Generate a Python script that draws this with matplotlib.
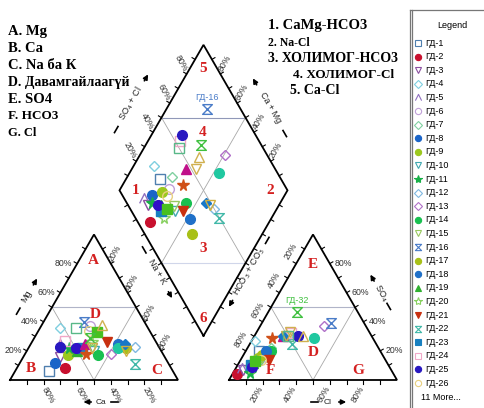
import numpy as np
import matplotlib
matplotlib.use("Agg")
import matplotlib.pyplot as plt
from matplotlib.path import Path

# samples (percent of meq)
names = ["ГД-%d" % i for i in range(1, 38)]
ca   = [74, 63, 62, 52, 58, 34, 51, 67, 57, 40, 54, 14, 31, 39, 40, 36, 20, 23, 50, 38, 29, 20, 46, 54, 59, 36,
        50, 43, 46, 32, 26, 38, 40, 25, 19, 21, 43]
mg   = [6, 8, 16, 36, 25, 37, 22, 12, 17, 20, 22, 23, 18, 17, 22, 40, 22, 25, 20, 26, 26, 11, 22, 27, 23, 34,
        22, 25, 18, 33, 38, 29, 22, 22, 25, 20, 36]
nak  = [20, 29, 22, 12, 17, 29, 27, 21, 26, 40, 24, 63, 51, 44, 38, 24, 58, 52, 30, 36, 45, 69, 32, 19, 18, 30,
        28, 32, 36, 35, 36, 33, 38, 53, 56, 59, 21]
hco3 = [72, 93, 88, 71, 88, 70, 64, 82, 75, 74, 85, 50, 25, 65, 73, 20, 72, 68, 80, 83, 69, 50, 82, 47, 44, 74,
        82, 53, 60, 78, 41, 36, 47, 35, 53, 51, 50]
so4  = [20, 4, 7, 27, 8, 16, 22, 10, 15, 14, 5, 30, 37, 20, 15, 39, 17, 20, 12, 8, 14, 25, 10, 32, 30, 14,
        9, 30, 29, 13, 30, 47, 33, 29, 30, 30, 30]
cl   = [8, 3, 5, 2, 4, 14, 14, 8, 10, 12, 10, 20, 38, 15, 12, 41, 11, 12, 8, 9, 17, 25, 8, 21, 26, 12,
        9, 17, 11, 9, 29, 17, 20, 36, 17, 19, 20]
labelled = ["ГД-16", "ГД-32"]

hourglass = Path([(-1, 1), (1, 1), (-1, -1), (1, -1), (-1, 1)])
caret = Path([(-1, -1), (0, 1), (1, -1)], [Path.MOVETO, Path.LINETO, Path.LINETO])

styles = [
    ("s", "#4f7fae", False), ("o", "#c8102e", True), ("v", "#8a4fa0", False), ("D", "#7fcfe0", False),
    (caret, "#9070c0", False), ("o", "#c0a0d8", False), ("D", "#80d0a0", False), ("o", "#1a64c8", True),
    ("o", "#9cc81e", True), ("v", "#40a8b0", False), ("*", "#18b048", True), ("D", "#80b8e0", False),
    ("D", "#b070c8", False), ("o", "#18c050", True), ("v", "#98c860", False), (hourglass, "#4a7cc8", False),
    ("o", "#a8c018", True), ("o", "#2070c8", True), ("^", "#30b030", True), ("*", "#88d060", False),
    ("v", "#c83010", True), (hourglass, "#40b8a8", False), ("s", "#1880c0", True), ("s", "#f0a8c8", False),
    ("o", "#2818c0", True), ("o", "#e8d080", False),
    ("o", "#3010c8", True), ("^", "#c0108a", True), ("*", "#d05018", True), ("s", "#48c020", True),
    ("^", "#d0b050", False), (hourglass, "#40c040", False), ("v", "#d0b050", False), ("o", "#20c8a0", True),
    ("D", "#1878c8", True), ("v", "#d0b040", False), ("s", "#58b888", False),
]

# geometry in pixels (y grows downwards)
S = 168.0
H = S * np.sqrt(3) / 2
BASE = 380.0
CX0, AX0 = 10.0, 229.0
gap = AX0 - (CX0 + S)
DB = np.array([(CX0 + S + AX0) / 2, BASE - gap * np.sqrt(3) / 2])
UL = np.array([-S / 2, -H])
UR = np.array([S / 2, -H])


def cat_xy(m, n):
    return CX0 + S * (n + m / 2) / 100, BASE - H * m / 100


def an_xy(s, c):
    return AX0 + S * (c + s / 2) / 100, BASE - H * s / 100


def dia_xy(n, sc):
    p = DB + (1 - n / 100) * UL + sc / 100 * UR
    return p[0], p[1]


fig = plt.figure(figsize=(4.85, 4.08), dpi=100)
ax = fig.add_axes([0, 0, 1, 1])
ax.set_xlim(0, 485)
ax.set_ylim(408, 0)
ax.axis("off")

red = "#d42020"
grey = "#a8a8a8"
serif = ["Liberation Serif", "DejaVu Serif"]
sans = ["Liberation Sans", "DejaVu Sans"]


def seg(p, q, **kw):
    ax.plot([p[0], q[0]], [p[1], q[1]], **kw)


def ticks(p, q, normal, n=10, ln=3.5):
    p, q, normal = np.array(p), np.array(q), np.array(normal)
    for i in range(1, n):
        t = p + (q - p) * i / n
        seg(t, t + normal * ln, color="k", lw=0.8)


# triangles
cL, cR, cT = (CX0, BASE), (CX0 + S, BASE), (CX0 + S / 2, BASE - H)
aL, aR, aT = (AX0, BASE), (AX0 + S, BASE), (AX0 + S / 2, BASE - H)
for L, R, T in [(cL, cR, cT), (aL, aR, aT)]:
    L, R, T = np.array(L), np.array(R), np.array(T)
    mL, mR, mB = (L + T) / 2, (R + T) / 2, (L + R) / 2
    seg(mL, mR, color="#b0b4c8", lw=0.8)
    seg(mL, mB, color=grey, lw=0.6)
    seg(mR, mB, color=grey, lw=0.6)
    ax.plot([L[0], R[0], T[0], L[0]], [L[1], R[1], T[1], L[1]], color="k", lw=1.3, solid_joinstyle="miter")
    ticks(L, R, (0, 1))
    ticks(L, T, (-0.866, -0.5))
    ticks(R, T, (0.866, -0.5))

dB = DB
dL = DB + UL
dT = DB + UL + UR
dR = DB + UR
seg((dL + dT) / 2, (dR + dT) / 2, color="#9098b8", lw=0.8)
seg((dL + dB) / 2, (dR + dB) / 2, color="#d0d6ea", lw=0.8)
seg((dL + dT) / 2, (dR + dB) / 2, color=grey, lw=0.6)
seg((dR + dT) / 2, (dL + dB) / 2, color=grey, lw=0.6)
ax.plot([dB[0], dL[0], dT[0], dR[0], dB[0]], [dB[1], dL[1], dT[1], dR[1], dB[1]],
        color="k", lw=1.3, solid_joinstyle="miter")
ticks(dL, dT, (-0.866, -0.5))
ticks(dR, dT, (0.866, -0.5))
ticks(dB, dL, (-0.866, 0.5))
ticks(dB, dR, (0.866, 0.5))

# tick labels
tk = dict(fontsize=6.3, color="#333333", family=sans, va="center")
for v in [20, 40, 60, 80]:
    x, y = cat_xy(v, 0)
    ax.text(x - 5, y, "%d%%" % v, ha="right", **tk)
    x, y = cat_xy(0, 100 - v)
    ax.text(x + 5, y + 15, "%d%%" % v, ha="center", rotation=-60, **tk)
    x, y = cat_xy(100 - v, v)
    ax.text(x + 4, y - 10, "%d%%" % v, ha="center", rotation=60, **tk)
    x, y = an_xy(100 - v, 0)
    ax.text(x - 5, y - 12, "%d%%" % v, ha="center", rotation=60, **tk)
    x, y = an_xy(0, v)
    ax.text(x - 6, y + 14, "%d%%" % v, ha="center", rotation=60, **tk)
    x, y = an_xy(v, 100 - v)
    ax.text(x + 5, y, "%d%%" % v, ha="left", **tk)
    x, y = dia_xy(0, v)
    ax.text(x - 6, y - 11, "%d%%" % v, ha="center", rotation=-60, **tk)
    x, y = dia_xy(100 - v, 100)
    ax.text(x + 5, y - 11, "%d%%" % v, ha="center", rotation=60, **tk)


def axis_title(c, d, rot, text, g1, g2, fs=6.5):
    c, d = np.array(c), np.array(d)
    ax.text(c[0], c[1], text, rotation=rot, ha="center", va="center", fontsize=fs,
            color="#222222", family=sans)
    seg(c - d * g1, c - d * (g1 + 7), color="k", lw=1.2)
    ax.annotate("", xy=tuple(c + d * (g2 + 13)), xytext=tuple(c + d * g2),
                arrowprops=dict(arrowstyle="-|>", color="k", lw=1.2, mutation_scale=7))


s3 = np.sqrt(3) / 2
axis_title((27, 296), (0.5, -s3), 60, "Mg", 14, 10)
axis_title((157, 272), (0.5, s3), -60, "Na + K", 22, 20)
axis_title((131, 104), (0.5, -s3), 60, "SO$_4$ + Cl", 26, 24)
axis_title((270, 108), (-0.5, -s3), -60, "Ca + Mg", 26, 24)
axis_title((249, 272), (-0.5, s3), 60, "HCO$_3$ + CO$_3$", 33, 30)
axis_title((381, 293), (-0.5, -s3), -60, "SO$_4$", 12, 11)
axis_title((101, 402), (-1, 0), 0, "Ca", 10, 7, fs=6)
axis_title((328, 402), (1, 0), 0, "Cl", 10, 8, fs=6)

# data points
for i in range(len(names)):
    mk, col, filled = styles[i]
    tc = ca[i] + mg[i] + nak[i]
    ta = hco3[i] + so4[i] + cl[i]
    m, n = 100 * mg[i] / tc, 100 * nak[i] / tc
    s, c = 100 * so4[i] / ta, 100 * cl[i] / ta
    pts = [cat_xy(m, n), an_xy(s, c), dia_xy(n, s + c)]
    ms = 8.5 if mk == "*" else (5.5 if mk == "D" else 7)
    for x, y in pts:
        ax.plot(x, y, marker=mk, ms=ms, color=col, mfc=col if filled else "none", mec=col,
                mew=1.0, ls="none", zorder=3)
    if names[i] in labelled:
        x, y = dia_xy(n, s + c) if names[i] == "ГД-16" else an_xy(s, c)
        ax.text(x, y - 11, names[i], color=col, fontsize=6.5, ha="center", va="center", family=sans)

# region labels
rl = dict(color=red, fontsize=11, fontweight="bold", family=serif, ha="center", va="center")
for txt, (x, y) in [("5", (203, 68)), ("4", (203, 132)), ("1", (136, 190)), ("2", (270, 190)),
                    ("3", (203, 248)), ("6", (203, 318)),
                    ("A", (93, 260)), ("D", (95, 314)), ("B", (31, 368)), ("C", (157, 370)),
                    ("E", (313, 264)), ("D", (313, 353)), ("F", (270, 370)), ("G", (358, 370))]:
    ax.text(x, y, txt, **rl)

# notes
left_notes = [("A. Mg", 10.5), ("B. Ca", 10.5), ("C. Na ба К", 10.5), ("D. Давамгайлаагүй", 10),
              ("E. SO4", 10.5), ("F. HCO3", 9.5), ("G. Cl", 9)]
for i, (t, fs) in enumerate(left_notes):
    ax.text(8, 32 + 16.8 * i, t, fontsize=fs, fontweight="bold", family=serif, va="center", ha="left")
right_notes = [("1. CaMg-HCO3", 268, 25, 10.5), ("2. Na-Cl", 268, 43, 8.5), ("3. ХОЛИМОГ-HCO3", 268, 59, 10),
               ("4. ХОЛИМОГ-Cl", 293, 75, 9.5), ("5. Ca-Cl", 290, 91, 10)]
for t, x, y, fs in right_notes:
    ax.text(x, y, t, fontsize=fs, fontweight="bold", family=serif, va="center", ha="left")

# legend box
ax.plot([410, 410], [10, 410], color="#777777", lw=0.9)
ax.plot([412.5, 412.5], [10, 410], color="#777777", lw=0.9)
ax.plot([410, 490], [10, 10], color="#777777", lw=0.9)
ax.text(452, 25, "Legend", fontsize=6.5, ha="center", va="center", family=sans)
for i in range(26):
    mk, col, filled = styles[i]
    y = 43 + 13.6 * i
    ax.plot(418, y, marker=mk, ms=4.5 if mk != "*" else 6, color=col, mfc=col if filled else "none",
            mec=col, mew=0.8, ls="none")
    ax.text(425, y, names[i], fontsize=6.5, va="center", ha="left", family=sans)
ax.text(421, 398, "%d More..." % (len(names) - 26), fontsize=6.5, va="center", ha="left", family=sans)

fig.savefig("out.png", dpi=100)
